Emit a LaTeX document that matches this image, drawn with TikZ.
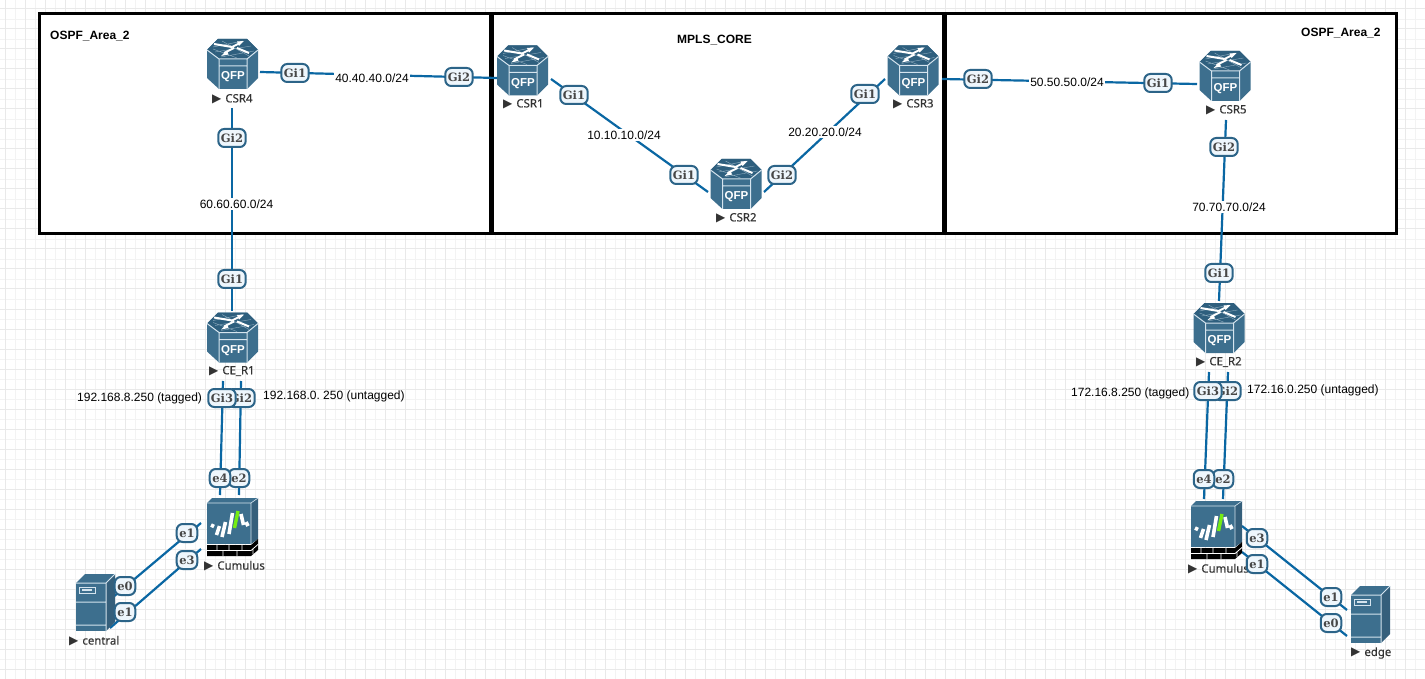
\documentclass[tikz,border=0pt]{standalone}
\usepackage{fontspec}
\setmainfont{Liberation Sans}
\newfontfamily\badgefont{DejaVu Serif}[BoldFont={DejaVu Serif Bold}]
\newfontfamily\iconfont{Noto Sans}[FakeBold=0.35]
\newfontfamily\dvfont{DejaVu Sans}
\frenchspacing
\definecolor{linkblue}{HTML}{0A67A3}
\definecolor{iconbody}{HTML}{3D6F8E}
\definecolor{icontop}{HTML}{2E5F7E}
\definecolor{iconside}{HTML}{355F7B}
\definecolor{iconline}{HTML}{D5E4EE}
\definecolor{badgefill}{HTML}{EEF6FC}
\definecolor{badgeedge}{HTML}{2C6488}
\definecolor{gridmajor}{HTML}{E9E9E9}
\definecolor{gridminor}{HTML}{F3F3F3}
\newcommand{\rmk}{\dvfont\fontsize{12}{12}\selectfont ▶\hspace{4pt}\iconfont\fontsize{11.4}{12}\selectfont}
\tikzset{
  x=1pt,y=-1pt,
  frame/.style={draw=black,fill=white,line width=3pt},
  link/.style={draw=linkblue,line width=2.2pt},
  port/.style={draw=badgeedge,fill=badgefill,line width=2pt,rounded corners=6pt,
    text=black!72,font=\badgefont\bfseries\fontsize{11.5}{12}\selectfont,
    minimum height=18pt,inner xsep=2.6pt,inner ysep=0pt},
  net/.style={fill=white,inner xsep=1pt,inner ysep=1.5pt,yshift=-.8pt,font=\fontsize{12}{14}\selectfont,text=black},
  note/.style={inner sep=0pt,yshift=-.8pt,font=\fontsize{12}{14}\selectfont,text=black},
  title/.style={inner sep=0pt,yshift=-.8pt,font=\bfseries\fontsize{12}{14}\selectfont,text=black},
  hostname/.style={anchor=west,inner sep=0pt,text=black!80,font=\rmk},
  iconbox/.style 2 args={minimum width=#1pt,minimum height=#2pt,inner sep=0pt,draw=none},
  router/.pic={
    \begin{scope}[shift={(-25.5,-25)}]
      \fill[iconbody] (11,0)--(40,0)--(51,11)--(51,39)--(40,50)--(12,50)--(0,39)--(0,11)--cycle;
      \fill[icontop] (11,0)--(40,0)--(51,11)--(40,20)--(12,20)--(0,11)--cycle;
      \draw[iconline,line width=.4pt,opacity=.6] (6,8)--(36,2) (8,13)--(44,7) (14,18)--(47,12) (15,2)--(42,17) (6,10)--(30,19);
      \draw[white,line width=2pt] (7,5)--(25,8) (33,4)--(25,8) (17,14)--(27,9) (30,9)--(42,14);
      \fill[white] (37,2)--(30,2.5)--(32,7)--cycle (14,17)--(20,11.5)--(21.5,15.5)--cycle;
      \draw[iconline,line width=1pt] (0,11)--(12,20)--(40,20)--(51,11) (12,20)--(12,50) (40,20)--(40,50) (12,27)--(40,27);
      \node[inner sep=0pt,text=white,font=\bfseries\fontsize{11.5}{12}\selectfont] at (26,38) {QFP};
    \end{scope}
  },
  firewall/.pic={
    \begin{scope}[shift={(-25.5,-29)}]
      \fill[iconbody] (0,5) rectangle (44,46);
      \fill[iconbody] (0,5)--(5,0)--(51,0)--(44,5)--cycle;
      \fill[iconside] (44,5)--(51,0)--(51,41)--(44,46)--cycle;
      \draw[iconline,line width=.6pt] (0,5)--(44,5)--(51,0) (44,5)--(44,46);
      \fill[black] (0,47) rectangle (44,58) (44,47)--(51,41)--(51,52)--(44,58)--cycle;
      \draw[white,line width=.8pt] (0,52.5)--(44,52.5)--(51,46.5) (10,47)--(10,52.5) (22,47)--(22,52.5) (35,47)--(35,52.5)
        (16,52.5)--(16,58) (30,52.5)--(30,58) (46,50.5)--(46,56);
      \draw[white,line width=3.6pt] (4,27)--(7,28.5) (9.5,37)--(12.5,28) (15,39)--(18.5,24) (22,36)--(25.5,15) (34,16)--(36.5,27) (39,24)--(41,28);
      \draw[green!55!yellow!85!gray,line width=3.4pt] (27.5,30)--(31,13);
    \end{scope}
  },
  server/.pic={
    \begin{scope}[shift={(-19.5,-28.5)}]
      \fill[iconbody] (0,9) rectangle (30,57);
      \fill[iconbody] (0,9)--(9,0)--(39,0)--(30,9)--cycle;
      \fill[iconside] (30,9)--(39,0)--(39,48)--(30,57)--cycle;
      \draw[iconline,line width=1pt] (0,9)--(30,9)--(39,0) (30,9)--(30,57) (0,28)--(30,28) (0,51)--(30,51);
      \draw[iconline,line width=.9pt] (3,13) rectangle (19,19);
      \fill[iconline] (6,15.4) rectangle (16,16.6);
    \end{scope}
  }
}
\begin{document}
\begin{tikzpicture}
\useasboundingbox (0,0) rectangle (1425,679);
\fill[white] (0,0) rectangle (1425,679);
% grid
\foreach \gx in {15,35,...,1425} \draw[gridminor,line width=.8pt] (\gx,0)--(\gx,679);
\foreach \gy in {19,39,...,679} \draw[gridminor,line width=.8pt] (0,\gy)--(1425,\gy);
\foreach \gx in {5,25,...,1425} \draw[gridmajor,line width=1pt] (\gx,0)--(\gx,679);
\foreach \gy in {9,29,...,679} \draw[gridmajor,line width=1pt] (0,\gy)--(1425,\gy);
% area frames
\path[frame] (39.7,13.5) rectangle (490,234);
\path[frame] (492.5,13.5) rectangle (943,234);
\path[frame] (945.5,13.5) rectangle (1396,234);
% device anchors
\node[iconbox={51}{50}] (csr4) at (232.5,64) {};
\node[iconbox={51}{50}] (csr1) at (522.5,70.5) {};
\node[iconbox={51}{50}] (csr2) at (736,184) {};
\node[iconbox={51}{50}] (csr3) at (913,70.5) {};
\node[iconbox={51}{50}] (csr5) at (1225,76) {};
\node[iconbox={51}{50}] (cer1) at (232.5,337.5) {};
\node[iconbox={51}{50}] (cer2) at (1219,328) {};
\node[iconbox={51}{58}] (cuml) at (232.5,527) {};
\node[iconbox={51}{58}] (cumr) at (1216.5,530) {};
\node[iconbox={39}{57}] (central) at (95.5,602.5) {};
\node[iconbox={39}{57}] (edge) at (1370.5,614.5) {};
% connectors
\draw[link] ([shift={(27.5,8)}]csr4.center) -- ([shift={(-25.5,7.5)}]csr1.center);
\draw[link] ([shift={(28.5,8.5)}]csr1.center) -- ([shift={(-28,8)}]csr2.center);
\draw[link] ([shift={(28,8)}]csr2.center) -- ([shift={(-28,8.5)}]csr3.center);
\draw[link] ([shift={(29,8.5)}]csr3.center) -- ([shift={(-28,8)}]csr5.center);
\draw[link] ([shift={(-.5,44)}]csr4.center) -- ([shift={(-.5,-26.5)}]cer1.center);
\draw[link] ([shift={(1,44)}]csr5.center) -- ([shift={(0,-27)}]cer2.center);
\draw[link] ([shift={(-9.5,43.5)}]cer1.center) -- ([shift={(-12.5,-32)}]cuml.center);
\draw[link] ([shift={(8.5,43.5)}]cer1.center) -- ([shift={(6.5,-32)}]cuml.center);
\draw[link] ([shift={(-10,44)}]cer2.center) -- ([shift={(-12.5,-31)}]cumr.center);
\draw[link] ([shift={(9,44)}]cer2.center) -- ([shift={(6.5,-31)}]cumr.center);
\draw[link] ([shift={(-31.5,-4)}]cuml.center) -- ([shift={(16.5,-4.5)}]central.center);
\draw[link] ([shift={(-31.5,22)}]cuml.center) -- ([shift={(14.5,25.5)}]central.center);
\draw[link] ([shift={(25.5,-4)}]cumr.center) -- ([shift={(-23.5,-4.5)}]edge.center);
\draw[link] ([shift={(25.5,22)}]cumr.center) -- ([shift={(-23.5,21.5)}]edge.center);
% icons
\foreach \dev in {csr4,csr1,csr2,csr3,csr5,cer1,cer2} \pic at (\dev) {router};
\foreach \dev in {cuml,cumr} \pic at (\dev) {firewall};
\foreach \dev in {central,edge} \pic at (\dev) {server};
% device names
\node[hostname] (ncsr4) at (212,99) {CSR4};
\node[hostname] (ncsr1) at (503,104) {CSR1};
\node[hostname] (ncsr2) at (716,218) {CSR2};
\node[hostname] (ncsr3) at (893,104) {CSR3};
\node[hostname] (ncsr5) at (1206,110) {CSR5};
\node[hostname] (ncer1) at (209,371) {CE\_R1};
\node[hostname] (ncer2) at (1196,362) {CE\_R2};
\node[hostname] (ncuml) at (204,566) {Cumulus};
\node[hostname] (ncumr) at (1188,569) {Cumulus};
\node[hostname] (ncentral) at (69,641) {central};
\node[hostname] (nedge) at (1351,653) {edge};
% network labels
\node[net] (n40) at (372,77) {40.40.40.0/24};
\node[net] (n10) at (624,134) {10.10.10.0/24};
\node[net] (n20) at (825,131) {20.20.20.0/24};
\node[net,inner ysep=0pt] (n50) at (1067,81) {50.50.50.0/24};
\node[net] (n60) at (236.5,203) {60.60.60.0/24};
\node[net] (n70) at (1229,206) {70.70.70.0/24};
% port badges
\node[port] (b1) at (295,73) {Gi1};
\node[port] (b2) at (232,138) {Gi2};
\node[port] (b3) at (459,77) {Gi2};
\node[port] (b4) at (574,95) {Gi1};
\node[port] (b5) at (684,175) {Gi1};
\node[port] (b6) at (782,175) {Gi2};
\node[port] (b7) at (865,94) {Gi1};
\node[port] (b8) at (978,79) {Gi2};
\node[port] (b9) at (1158,83) {Gi1};
\node[port] (b10) at (1224,147) {Gi2};
\node[port] (b11) at (1219,273) {Gi1};
\node[port] (b12) at (232,279) {Gi1};
\node[port] (b13) at (241,398) {Gi2};
\node[port] (b14) at (222,398) {Gi3};
\node[port] (b15) at (239,478) {e2};
\node[port] (b16) at (220,478) {e4};
\node[port] (b17) at (187,533) {e1};
\node[port] (b18) at (187,560) {e3};
\node[port] (b19) at (125,586) {e0};
\node[port] (b20) at (125,612) {e1};
\node[port] (b21) at (1227,391) {Gi2};
\node[port] (b22) at (1208,391) {Gi3};
\node[port] (b23) at (1223,479) {e2};
\node[port] (b24) at (1204,479) {e4};
\node[port] (b25) at (1257,538) {e3};
\node[port] (b26) at (1257,564) {e1};
\node[port] (b27) at (1331,597) {e1};
\node[port] (b28) at (1331,623) {e0};
% notes
\node[note,anchor=west] (t1) at (77,398) {192.168.8.250 (tagged)};
\node[note,anchor=west] (t2) at (263,396) {192.168.0. 250 (untagged)};
\node[note,anchor=west] (t3) at (1071,393) {172.16.8.250 (tagged)};
\node[note,anchor=west] (t4) at (1247,390) {172.16.0.250 (untagged)};
\node[title,anchor=west] (a1) at (50,35) {OSPF\_Area\_2};
\node[title,anchor=west] (a2) at (677,39) {MPLS\_CORE};
\node[title,anchor=west] (a3) at (1301,32) {OSPF\_Area\_2};
\end{tikzpicture}
\end{document}
